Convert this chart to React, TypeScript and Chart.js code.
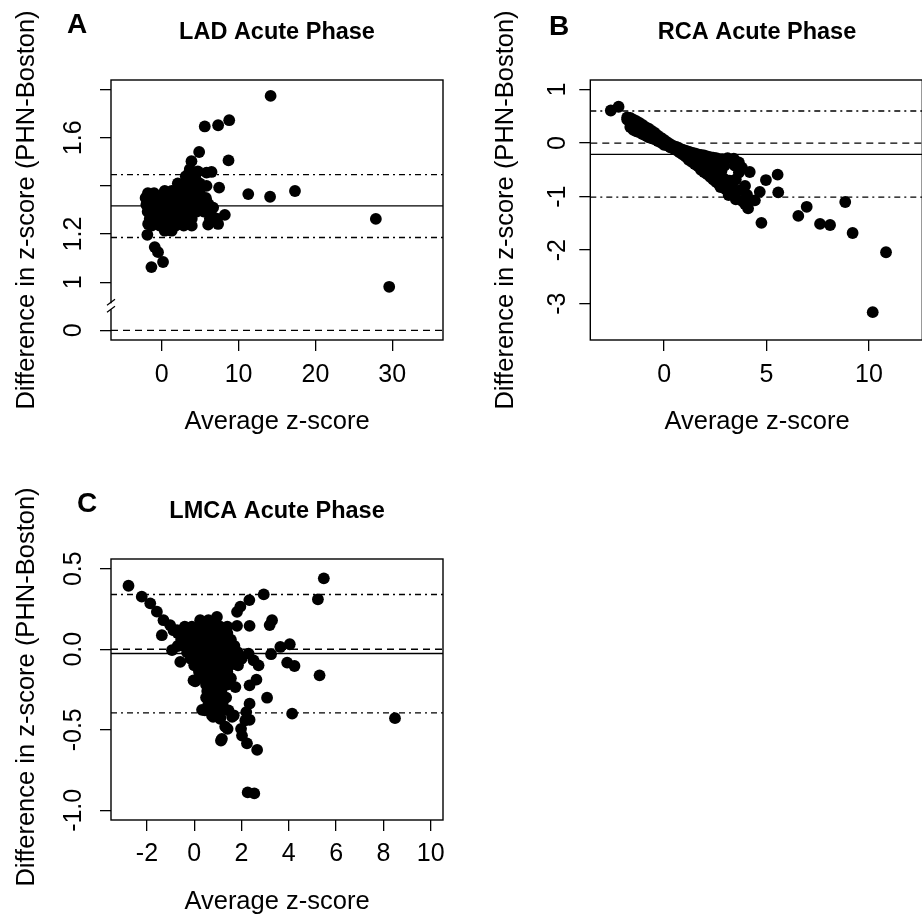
import React, { useEffect, useRef } from "react";
import { Chart, registerables } from "chart.js";

Chart.register(...registerables);

const FONT = '"Liberation Sans", Arial, Helvetica, sans-serif';
const TICK_FONT = `25px ${FONT}`;
const LAB_FONT = `25.5px ${FONT}`;
const TITLE_FONT = `bold 23.5px ${FONT}`;
const LETTER_FONT = `bold 28px ${FONT}`;
const X_TITLE = "Average z-score";
const Y_TITLE = "Difference in z-score (PHN-Boston)";

// ---------------- Panel A : LAD ----------------
const ladTitle = "LAD Acute Phase";
const ladXTicks = [0, 10, 20, 30];
const ladXTickLabels = ["0", "10", "20", "30"];
const ladYTicks = [0, 1, 1.2, 1.4, 1.6, 1.8];
const ladYTickLabels = ["0", "1", "1.2", "", "1.6", ""];
const ladMean = 1.317;
const ladLimits = [1.186, 1.447];
const ladXRange = [-6.6, 36.6];
const ladYRange = [0.76, 1.84]; // broken-axis units
const ladPoints: [number, number][] = [
  [14.17, 1.774], [5.6, 1.647], [7.34, 1.652], [8.78, 1.673], [8.69, 1.506], [4.87, 1.541],
  [3.87, 1.503], [3.56, 1.455], [5.83, 1.455], [6.48, 1.458], [5.83, 1.4], [7.47, 1.393],
  [11.26, 1.366], [14.1, 1.355], [17.34, 1.379], [27.86, 1.263], [29.6, 0.981],
  [-1.87, 1.197], [-0.91, 1.146], [-0.48, 1.125], [0.17, 1.084], [-1.34, 1.063],
  [8.21, 1.28], [7.34, 1.242], [6.04, 1.239], [6.69, 1.31], [5.83, 1.338],
  [-1.77, 1.242], [1.04, 1.221], [0.95, 1.217], [4.7, 1.46], [3.13, 1.44], [4.04, 1.44],
  [3.65, 1.47], [4.4, 1.43], [2.8, 1.395],
  [2.09, 1.41], [3.0, 1.41], [3.91, 1.41], [4.95, 1.41],
  [-1.8, 1.37], [-1.0, 1.37], [0.39, 1.379], [1.3, 1.379], [2.22, 1.379], [3.13, 1.379], [4.04, 1.379], [4.95, 1.379],
  [-2.1, 1.35], [-1.3, 1.35], [-0.39, 1.35], [0.52, 1.35], [1.43, 1.35], [2.35, 1.35], [3.26, 1.35], [4.17, 1.35], [5.08, 1.35], [5.74, 1.35],
  [-2.0, 1.322], [-1.17, 1.322], [-0.26, 1.322], [0.65, 1.322], [1.56, 1.322], [2.48, 1.322], [3.39, 1.322], [4.3, 1.322], [5.22, 1.322], [6.13, 1.322],
  [-1.83, 1.293], [-0.91, 1.293], [0, 1.293], [0.91, 1.293], [1.83, 1.293], [2.74, 1.293], [3.65, 1.293], [4.56, 1.293], [5.48, 1.293], [6.39, 1.293],
  [-1.56, 1.264], [-0.65, 1.264], [0.26, 1.264], [1.17, 1.264], [2.09, 1.264], [3.0, 1.264], [3.91, 1.264], [6.26, 1.264], [7.17, 1.264],
  [-1.3, 1.235], [-0.26, 1.235], [0.78, 1.235], [1.83, 1.235], [2.87, 1.235], [3.91, 1.235],
  [0.39, 1.214], [1.3, 1.214],
];
// values below the axis break are compressed into one tick step
const ladBreak = (v: number) => (v < 0.5 ? 0.8 + 0.2 * v : v);

// ---------------- Panel B : RCA ----------------
const rcaTitle = "RCA Acute Phase";
const rcaXTicks = [0, 5, 10];
const rcaXTickLabels = ["0", "5", "10"];
const rcaYTicks = [-3, -2, -1, 0, 1];
const rcaYTickLabels = ["-3", "-2", "-1", "0", "1"];
const rcaMean = -0.21;
const rcaLimits = [-1.01, 0.6];
const rcaXRange = [-3.6, 12.6];
const rcaYRange = [-3.68, 1.18];
const rcaPoints: [number, number][] = [
  [-2.6, 0.61], [-2.22, 0.68],
  [-1.8, 0.48], [-1.8, 0.44],
  [-1.65, 0.47], [-1.65, 0.38], [-1.65, 0.3],
  [-1.5, 0.44], [-1.5, 0.34], [-1.5, 0.25],
  [-1.35, 0.41], [-1.35, 0.31], [-1.35, 0.22],
  [-1.2, 0.38], [-1.2, 0.29], [-1.2, 0.2],
  [-1.05, 0.34], [-1.05, 0.25], [-1.05, 0.17],
  [-0.9, 0.3], [-0.9, 0.22], [-0.9, 0.14],
  [-0.75, 0.27], [-0.75, 0.18], [-0.75, 0.11],
  [-0.6, 0.23], [-0.6, 0.15], [-0.6, 0.09],
  [-0.45, 0.19], [-0.45, 0.12], [-0.45, 0.07],
  [-0.3, 0.14], [-0.3, 0.08], [-0.3, 0.04],
  [-0.15, 0.1], [-0.15, 0.05], [-0.15, 0.01],
  [0, 0.06], [0, 0.01], [0, -0.03],
  [0.15, 0.02], [0.15, -0.04],
  [0.3, -0.02], [0.3, -0.08],
  [0.45, -0.05], [0.45, -0.1],
  [0.6, -0.07], [0.6, -0.13],
  [0.75, -0.1], [0.75, -0.17],
  [0.9, -0.12], [0.9, -0.21],
  [1.05, -0.14], [1.05, -0.25],
  [1.2, -0.16], [1.2, -0.24], [1.2, -0.31],
  [1.35, -0.18], [1.35, -0.27], [1.35, -0.35],
  [1.5, -0.19], [1.5, -0.29], [1.5, -0.39],
  [1.65, -0.21], [1.65, -0.32], [1.65, -0.43],
  [1.8, -0.22], [1.8, -0.33], [1.8, -0.44], [1.8, -0.5],
  [1.95, -0.23], [1.95, -0.34], [1.95, -0.45], [1.95, -0.54],
  [2.1, -0.25], [2.1, -0.36], [2.1, -0.47], [2.1, -0.58],
  [2.25, -0.26], [2.25, -0.38], [2.25, -0.5], [2.25, -0.63],
  [2.4, -0.27], [2.4, -0.4], [2.4, -0.53], [2.4, -0.68],
  [2.55, -0.28], [2.55, -0.42], [2.55, -0.57], [2.55, -0.73],
  [2.7, -0.3], [2.7, -0.45], [2.7, -0.6], [2.7, -0.78],
  [2.85, -0.3], [3.1, -0.28], [3.4, -0.29], [3.65, -0.36], [2.95, -0.42], [3.45, -0.42], [3.8, -0.46],
  [2.8, -0.52], [3.65, -0.55], [2.6, -0.66], [2.9, -0.66], [3.2, -0.7], [3.5, -0.68],
  [2.75, -0.82], [3.0, -0.86], [3.3, -0.82], [3.15, -0.97], [3.4, -0.95], [3.7, -0.88],
  [3.5, -1.05], [3.8, -1.08], [3.95, -0.8], [4.05, -0.97], [3.95, -1.14],
  [4.18, -0.54], [4.97, -0.69], [5.54, -0.59], [5.57, -0.92], [4.67, -0.91], [4.43, -1.07],
  [4.1, -1.22], [4.75, -1.49], [6.55, -1.36], [6.96, -1.19], [7.61, -1.51], [8.1, -1.53],
  [8.84, -1.1], [9.2, -1.68], [10.83, -2.04], [10.18, -3.16],
];

// ---------------- Panel C : LMCA ----------------
const lmcaTitle = "LMCA Acute Phase";
const lmcaXTicks = [-2, 0, 2, 4, 6, 8, 10];
const lmcaXTickLabels = ["-2", "0", "2", "4", "6", "8", "10"];
const lmcaYTicks = [-1, -0.5, 0, 0.5];
const lmcaYTickLabels = ["-1.0", "-0.5", "0.0", "0.5"];
const lmcaMean = -0.027;
const lmcaLimits = [-0.395, 0.34];
const lmcaXRange = [-3.52, 10.52];
const lmcaYRange = [-1.06, 0.56];
const lmcaPoints: [number, number][] = [
  [-2.78, 0.394], [-2.22, 0.326], [-1.86, 0.285], [-1.58, 0.233], [-1.3, 0.18], [-1.02, 0.15],
  [-1.37, 0.087], [-0.73, 0.118], [-0.94, -0.006], [-0.59, -0.079], [0.04, -0.2], [-0.88, 0.118],
  [5.48, 0.44], [5.23, 0.31], [2.94, 0.34], [2.33, 0.305], [1.95, 0.264], [1.81, 0.232],
  [3.29, 0.18], [3.19, 0.15], [2.34, 0.145], [1.81, 0.145], [3.64, 0.014], [4.04, 0.031],
  [3.25, -0.031], [3.93, -0.083], [4.24, -0.104], [5.3, -0.162], [3.08, -0.301], [4.14, -0.4],
  [8.49, -0.428], [2.66, -0.625], [2.26, -0.889], [2.54, -0.895], [2.23, -0.584], [2.02, -0.536],
  [1.98, -0.494], [2.16, -0.442], [2.34, -0.438], [2.2, -0.39], [2.34, -0.338], [1.13, -0.567],
  [1.41, -0.494], [1.67, -0.41], [1.1, -0.432], [0.75, -0.41], [0.33, -0.376], [1.74, -0.235],
  [2.34, -0.224], [2.63, -0.189], [2.72, -0.1], [2.3, -0.027], [2.51, -0.069], [-0.03, -0.193],
  [0.25, 0.18], [0.6, 0.18], [0.96, 0.2],
  [-0.4, 0.14], [-0.1, 0.14], [0.2, 0.14], [0.5, 0.14], [0.8, 0.14], [1.1, 0.14], [1.4, 0.14],
  [-0.7, 0.1], [-0.4, 0.1], [-0.1, 0.1], [0.2, 0.1], [0.5, 0.1], [0.8, 0.1], [1.1, 0.1], [1.4, 0.1],
  [-0.55, 0.06], [-0.25, 0.06], [0.05, 0.06], [0.35, 0.06], [0.65, 0.06], [0.95, 0.06], [1.25, 0.06], [1.55, 0.06],
  [-0.7, 0.02], [-0.4, 0.02], [-0.1, 0.02], [0.2, 0.02], [0.5, 0.02], [0.8, 0.02], [1.1, 0.02], [1.4, 0.02], [1.7, 0.02],
  [-0.3, -0.02], [0, -0.02], [0.3, -0.02], [0.6, -0.02], [0.9, -0.02], [1.2, -0.02], [1.5, -0.02], [1.85, -0.02],
  [-0.15, -0.06], [0.15, -0.06], [0.45, -0.06], [0.75, -0.06], [1.05, -0.06], [1.35, -0.06], [1.65, -0.06], [2.0, -0.06],
  [0, -0.1], [0.3, -0.1], [0.6, -0.1], [0.9, -0.1], [1.2, -0.1], [1.5, -0.1], [1.85, -0.1],
  [0.2, -0.14], [0.5, -0.14], [0.8, -0.14], [1.1, -0.14], [1.4, -0.14],
  [0.35, -0.18], [0.65, -0.18], [0.95, -0.18], [1.25, -0.18], [1.55, -0.18],
  [0.5, -0.22], [0.8, -0.22], [1.1, -0.22], [1.4, -0.22],
  [0.55, -0.26], [0.85, -0.26], [1.15, -0.26],
  [0.5, -0.3], [0.8, -0.3], [1.1, -0.3], [1.35, -0.3],
  [0.6, -0.34], [0.9, -0.34], [1.2, -0.34],
  [0.45, -0.38], [0.75, -0.38], [1.05, -0.38], [1.45, -0.38],
  [0.8, -0.42], [1.1, -0.42], [1.6, -0.42],
  [1.31, -0.48], [1.17, -0.556],
];

const identity = (v: number) => v;

interface PanelSpec {
  letter: string;
  title: string;
  points: [number, number][];
  xTicks: number[];
  xTickLabels: string[];
  yTicks: number[];
  yTickLabels: string[];
  xRange: number[];
  yRange: number[];
  mean: number;
  limits: number[];
  mapY: (v: number) => number;
  axisBreak?: number;
  canvas: { left: number; top: number; w: number; h: number };
  area: { left: number; top: number; right: number; bottom: number };
  letterPos: [number, number];
  titlePos: [number, number];
  yTitlePos: [number, number];
  xTitlePos: [number, number];
  yTickX: number;
  xTickY: number;
}

const panels: PanelSpec[] = [
  {
    letter: "A", title: ladTitle, points: ladPoints,
    xTicks: ladXTicks, xTickLabels: ladXTickLabels, yTicks: ladYTicks, yTickLabels: ladYTickLabels,
    xRange: ladXRange, yRange: ladYRange, mean: ladMean, limits: ladLimits, mapY: ladBreak, axisBreak: 0.9,
    canvas: { left: 0, top: 0, w: 460, h: 460 },
    area: { left: 111, top: 80, right: 443, bottom: 340 },
    letterPos: [77, 25], titlePos: [277, 32.5], yTitlePos: [27, 210], xTitlePos: [277, 421.5],
    yTickX: 74, xTickY: 375,
  },
  {
    letter: "B", title: rcaTitle, points: rcaPoints,
    xTicks: rcaXTicks, xTickLabels: rcaXTickLabels, yTicks: rcaYTicks, yTickLabels: rcaYTickLabels,
    xRange: rcaXRange, yRange: rcaYRange, mean: rcaMean, limits: rcaLimits, mapY: identity,
    canvas: { left: 460, top: 0, w: 470, h: 460 },
    area: { left: 130.3, top: 80, right: 462.3, bottom: 340 },
    letterPos: [99, 27], titlePos: [297, 32.5], yTitlePos: [46, 210], xTitlePos: [297, 421.5],
    yTickX: 98, xTickY: 375,
  },
  {
    letter: "C", title: lmcaTitle, points: lmcaPoints,
    xTicks: lmcaXTicks, xTickLabels: lmcaXTickLabels, yTicks: lmcaYTicks, yTickLabels: lmcaYTickLabels,
    xRange: lmcaXRange, yRange: lmcaYRange, mean: lmcaMean, limits: lmcaLimits, mapY: identity,
    canvas: { left: 0, top: 460, w: 460, h: 456 },
    area: { left: 111, top: 99, right: 443, bottom: 360 },
    letterPos: [87, 44], titlePos: [277, 52], yTitlePos: [27, 227], xTitlePos: [277, 441.5],
    yTickX: 74, xTickY: 394,
  },
];

function decorPlugin(spec: PanelSpec) {
  return {
    id: "decor" + spec.letter,
    afterDraw(chart: any) {
      const ctx = chart.ctx as CanvasRenderingContext2D;
      const a = chart.chartArea;
      const xs = chart.scales.x;
      const ys = chart.scales.y;
      ctx.save();
      ctx.strokeStyle = "#000";
      ctx.lineWidth = 1.4;
      ctx.strokeRect(a.left, a.top, a.right - a.left, a.bottom - a.top);

      if (spec.axisBreak !== undefined) {
        const py = ys.getPixelForValue(spec.axisBreak);
        ctx.fillStyle = "#fff";
        ctx.fillRect(a.left - 2, py - 3, 4, 6);
        ctx.beginPath();
        ctx.moveTo(a.left - 4, py - 1);
        ctx.lineTo(a.left + 4, py - 7);
        ctx.moveTo(a.left - 4, py + 6);
        ctx.lineTo(a.left + 4, py);
        ctx.lineWidth = 1.2;
        ctx.stroke();
      }

      ctx.fillStyle = "#000";
      ctx.textAlign = "center";
      ctx.textBaseline = "middle";

      ctx.font = TICK_FONT;
      spec.xTicks.forEach((v, i) => {
        ctx.fillText(spec.xTickLabels[i], xs.getPixelForValue(v), spec.xTickY);
      });
      spec.yTicks.forEach((v, i) => {
        const lab = spec.yTickLabels[i];
        if (!lab) return;
        ctx.save();
        ctx.translate(spec.yTickX, ys.getPixelForValue(spec.mapY(v)));
        ctx.rotate(-Math.PI / 2);
        ctx.fillText(lab, 0, 0);
        ctx.restore();
      });

      ctx.font = LAB_FONT;
      ctx.fillText(X_TITLE, spec.xTitlePos[0], spec.xTitlePos[1]);
      ctx.save();
      ctx.translate(spec.yTitlePos[0], spec.yTitlePos[1]);
      ctx.rotate(-Math.PI / 2);
      ctx.fillText(Y_TITLE, 0, 0);
      ctx.restore();

      ctx.font = TITLE_FONT;
      ctx.fillText(spec.title, spec.titlePos[0], spec.titlePos[1]);
      ctx.font = LETTER_FONT;
      ctx.fillText(spec.letter, spec.letterPos[0], spec.letterPos[1]);
      ctx.restore();
    },
  };
}

function hLine(spec: PanelSpec, y: number, dash: number[]) {
  const yy = spec.mapY(y);
  return {
    type: "line" as const,
    data: [
      { x: spec.xRange[0], y: yy },
      { x: spec.xRange[1], y: yy },
    ],
    borderColor: "#000",
    borderWidth: 1.4,
    borderDash: dash,
    pointRadius: 0,
    pointHoverRadius: 0,
    fill: false,
    order: 0,
  };
}

function buildConfig(spec: PanelSpec): any {
  const tickGrid = {
    display: true,
    drawOnChartArea: false,
    drawTicks: true,
    tickLength: 11,
    color: "#000",
    lineWidth: 1.3,
  };
  return {
    type: "scatter",
    data: {
      datasets: [
        {
          data: spec.points.map(([x, y]) => ({ x, y: spec.mapY(y) })),
          backgroundColor: "#000",
          borderWidth: 0,
          pointRadius: 5.9,
          pointHoverRadius: 5.9,
          order: 1,
        },
        hLine(spec, 0, [7, 5]),
        hLine(spec, spec.mean, []),
        hLine(spec, spec.limits[0], [6, 4, 2, 4]),
        hLine(spec, spec.limits[1], [6, 4, 2, 4]),
      ],
    },
    options: {
      responsive: false,
      maintainAspectRatio: false,
      animation: false,
      devicePixelRatio: 1,
      events: [],
      layout: {
        autoPadding: false,
        padding: {
          left: 0,
          top: spec.area.top,
          right: spec.canvas.w - spec.area.right,
          bottom: 0,
        },
      },
      plugins: { legend: { display: false }, tooltip: { enabled: false }, title: { display: false } },
      scales: {
        x: {
          type: "linear",
          position: "bottom",
          min: spec.xRange[0],
          max: spec.xRange[1],
          afterBuildTicks: (s: any) => {
            s.ticks = spec.xTicks.map((v) => ({ value: v }));
          },
          afterFit: (s: any) => {
            s.height = spec.canvas.h - spec.area.bottom;
          },
          ticks: { display: false },
          grid: tickGrid,
          border: { display: false },
        },
        y: {
          type: "linear",
          position: "left",
          min: spec.yRange[0],
          max: spec.yRange[1],
          afterBuildTicks: (s: any) => {
            s.ticks = spec.yTicks.map((v) => ({ value: spec.mapY(v) }));
          },
          afterFit: (s: any) => {
            s.width = spec.area.left;
          },
          ticks: { display: false },
          grid: tickGrid,
          border: { display: false },
        },
      },
    },
    plugins: [decorPlugin(spec)],
  };
}

function Panel({ spec }: { spec: PanelSpec }) {
  const ref = useRef<HTMLCanvasElement>(null);
  useEffect(() => {
    if (!ref.current) return;
    const chart = new Chart(ref.current, buildConfig(spec));
    return () => chart.destroy();
  }, [spec]);
  return (
    <canvas
      ref={ref}
      width={spec.canvas.w}
      height={spec.canvas.h}
      style={{
        position: "absolute",
        left: spec.canvas.left,
        top: spec.canvas.top,
        width: spec.canvas.w,
        height: spec.canvas.h,
      }}
    />
  );
}

export default function App() {
  return (
    <div
      style={{
        position: "absolute",
        left: 0,
        top: 0,
        width: 922,
        height: 916,
        overflow: "hidden",
        background: "#fff",
      }}
    >
      {panels.map((p) => (
        <Panel key={p.letter} spec={p} />
      ))}
    </div>
  );
}
